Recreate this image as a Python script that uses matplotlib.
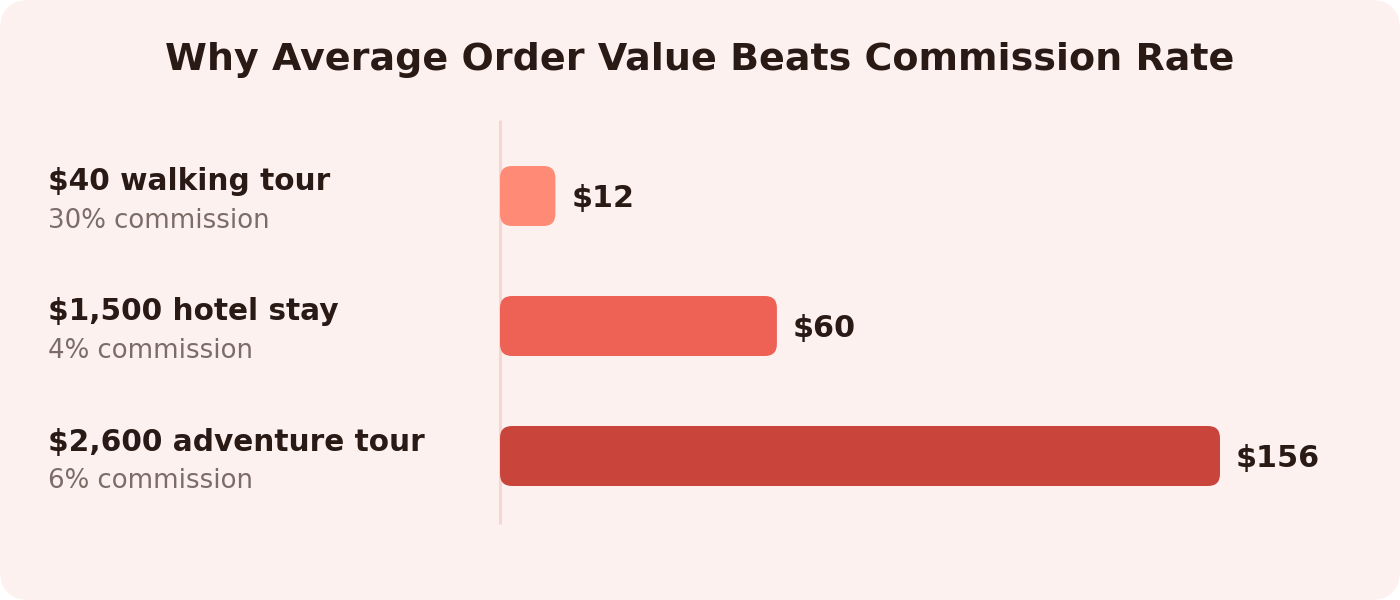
import matplotlib
import matplotlib.pyplot as plt
from matplotlib.patches import FancyBboxPatch

matplotlib.rcParams.update({'font.family': 'DejaVu Sans'})

# data
products = ['$40 walking tour', '$1,500 hotel stay', '$2,600 adventure tour']
commissions = ['30% commission', '4% commission', '6% commission']
earnings = [12, 60, 156]
bar_colors = ['#ff8b76', '#ee6256', '#c9453b']

bg = '#fdf1ef'
dark = '#2a1a16'
grey = '#7b6c68'

W, H = 1400, 600
fig = plt.figure(figsize=(W / 100, H / 100), dpi=100)
fig.patch.set_facecolor('white')

# background card (pixel coordinates)
bga = fig.add_axes([0, 0, 1, 1])
bga.set_xlim(0, W)
bga.set_ylim(H, 0)
bga.axis('off')
bga.add_patch(FancyBboxPatch((0, 0), W, H, boxstyle='round,pad=0,rounding_size=30',
                             facecolor=bg, edgecolor='none'))
bga.text(W / 2, 60, 'Why Average Order Value Beats Commission Rate',
         ha='center', va='center', fontsize=27.4, fontweight='bold', color=dark)

# bar axes: left edge at x=500px, 1 dollar = 720/156 px
px_per_unit = 720 / 156
ax_left, ax_right = 500, 1380
ax_top, ax_bot = 120, 524
ax = fig.add_axes([ax_left / W, 1 - ax_bot / H, (ax_right - ax_left) / W, (ax_bot - ax_top) / H])
ax.set_xlim(0, (ax_right - ax_left) / px_per_unit)
row = 130
ax.set_ylim(2 + 68 / row, -76 / row)
ax.axis('off')
ax.patch.set_alpha(0)

bar_h = 60 / row
rad_x = 12 / px_per_unit
aspect = (12 / row) / rad_x
for i, (v, c) in enumerate(zip(earnings, bar_colors)):
    ax.add_patch(FancyBboxPatch((0, i - bar_h / 2), v, bar_h,
                                boxstyle=f'round,pad=0,rounding_size={rad_x}',
                                mutation_aspect=aspect, facecolor=c, edgecolor='none'))
    ax.text(v + 16 / px_per_unit, i + 2 / row, f'${v}', ha='left', va='center',
            fontsize=21.8, fontweight='bold', color=dark)

# divider just left of the bars
bga.plot([499.5, 499.5], [120, 524], color='#f6d7d0', lw=2.2, zorder=1,
         solid_capstyle='butt')

# row labels
for i, (p, cm) in enumerate(zip(products, commissions)):
    yc = 196 + i * row
    bga.text(48, yc - 14, p, ha='left', va='center', fontsize=21.3,
             fontweight='bold', color=dark)
    bga.text(48, yc + 25, cm, ha='left', va='center', fontsize=18.7, color=grey)

fig.savefig('out.png', dpi=100)
